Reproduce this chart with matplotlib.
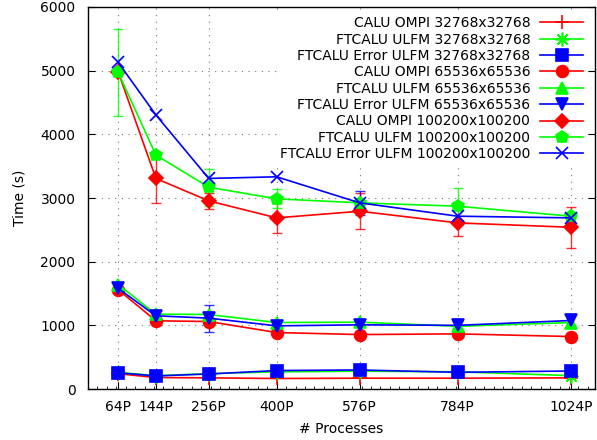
import numpy as np
import matplotlib
matplotlib.use("Agg")
import matplotlib.pyplot as plt
from matplotlib.ticker import MultipleLocator

procs = [64, 144, 256, 400, 576, 784, 1024]
tick_labels = ["64P", "144P", "256P", "400P", "576P", "784P", "1024P"]

labels = [
    "CALU OMPI 32768x32768",
    "FTCALU ULFM 32768x32768",
    "FTCALU Error ULFM 32768x32768",
    "CALU OMPI 65536x65536",
    "FTCALU ULFM 65536x65536",
    "FTCALU Error ULFM 65536x65536",
    "CALU OMPI 100200x100200",
    "FTCALU ULFM 100200x100200",
    "FTCALU Error ULFM 100200x100200",
]

calu_32k = [240, 180, 175, 165, 170, 170, 175]
ftcalu_32k = [260, 210, 240, 270, 280, 270, 210]
fterr_32k = [255, 205, 236, 290, 299, 262, 283]
calu_65k = [1560, 1071, 1060, 887, 855, 866, 824]
ftcalu_65k = [1640, 1176, 1170, 1044, 1050, 985, 1044]
fterr_65k = [1580, 1150, 1113, 992, 1008, 1000, 1076]
calu_100k = [4980, 3307, 2955, 2688, 2792, 2609, 2540]
ftcalu_100k = [4972, 3674, 3170, 2987, 2924, 2871, 2714]
fterr_100k = [5129, 4304, 3307, 3333, 2924, 2714, 2688]

err_calu_100k = [0, 380, 120, 230, 280, 200, 320]
err_ftcalu_100k = [690, 0, 290, 150, 0, 290, 0]
err_fterr_100k = [0, 0, 0, 0, 190, 0, 0]
err_fterr_65k = [0, 0, 210, 0, 0, 0, 0]

series = [calu_32k, ftcalu_32k, fterr_32k, calu_65k, ftcalu_65k, fterr_65k,
          calu_100k, ftcalu_100k, fterr_100k]
errors = [None, None, None, None, None, err_fterr_65k,
          err_calu_100k, err_ftcalu_100k, err_fterr_100k]

colors = ["#ff0000", "#00ff00", "#0000ff"] * 3
markers = ["+", (8, 2, 0), "s", "o", "^", "v", "D", "p", "x"]
msizes = [10, 10, 8, 8.5, 8, 8, 7.5, 9, 8]

fig = plt.figure(figsize=(5.97, 4.40), dpi=100)
ax = fig.add_axes([0.1474, 0.1159, 0.8492, 0.8682])

handles = []
for vals, err, c, m, ms, lab in zip(series, errors, colors, markers, msizes, labels):
    h, = ax.plot(procs, vals, color=c, marker=m, markersize=ms, lw=1.2,
                 markeredgewidth=1.2, label=lab, zorder=3)
    handles.append(h)
    if err is not None:
        idx = [i for i, e in enumerate(err) if e > 0]
        ax.errorbar([procs[i] for i in idx], [vals[i] for i in idx],
                    yerr=[err[i] for i in idx], fmt="none", ecolor=c,
                    elinewidth=1.0, capsize=3.5, capthick=1.0, alpha=0.8, zorder=2)

ax.set_xlim(0, 1075)
ax.set_ylim(0, 6000)
ax.set_xticks(procs)
ax.set_xticklabels(tick_labels)
ax.yaxis.set_major_locator(MultipleLocator(1000))
ax.xaxis.set_minor_locator(MultipleLocator(20))
ax.tick_params(axis="both", which="major", direction="in", length=5,
               labelsize=10, pad=8, top=False, right=True)
ax.tick_params(axis="x", which="minor", direction="in", length=2, top=False)
ax.tick_params(axis="y", which="major", pad=9)

ax.grid(True, which="major", color="0.45", linestyle=(0, (1, 5)), lw=0.8)
ax.set_axisbelow(True)

for s in ax.spines.values():
    s.set_linewidth(1.0)

ax.set_xlabel("# Processes", fontsize=10, labelpad=6)
ax.set_ylabel("Time (s)", fontsize=10, labelpad=10)

leg = ax.legend(handles=handles, loc="upper right", bbox_to_anchor=(0.982, 0.983),
                markerfirst=False, frameon=True, fancybox=False, fontsize=10,
                labelspacing=0.17, handlelength=3.1, handletextpad=0.7,
                borderpad=0.2, borderaxespad=0.0)
leg.get_frame().set_facecolor("white")
leg.get_frame().set_edgecolor("none")
leg.get_frame().set_alpha(1.0)
for t in leg.get_texts():
    t.set_ha("right")
leg._legend_box.align = "right"

fig.savefig("out.png", dpi=100)
